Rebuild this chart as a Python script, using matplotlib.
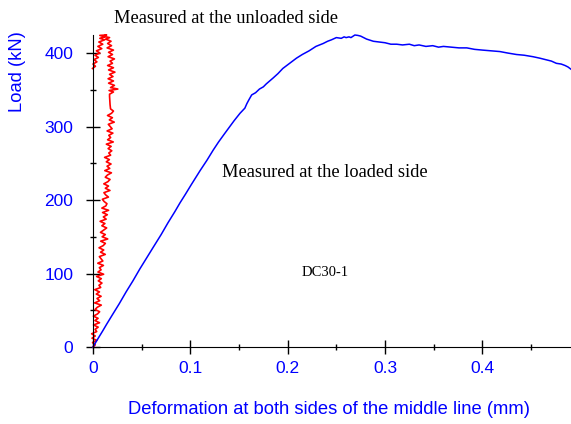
import matplotlib
matplotlib.use('Agg')
import matplotlib.pyplot as plt
from matplotlib.ticker import MultipleLocator

# loaded side (blue): deformation in mm, load in kN
loaded_x = [0.000, 0.004, 0.010, 0.014, 0.020, 0.027, 0.034, 0.041, 0.048, 0.055,
            0.062, 0.070, 0.077, 0.084, 0.0893, 0.095, 0.101, 0.110, 0.117, 0.1235,
            0.129, 0.135, 0.140, 0.145, 0.151, 0.156, 0.158, 0.160, 0.163, 0.167,
            0.171, 0.175, 0.178, 0.185, 0.190, 0.195, 0.202, 0.209, 0.215, 0.222,
            0.229, 0.2365, 0.241, 0.245, 0.250, 0.255, 0.258, 0.260, 0.263, 0.265,
            0.269, 0.272, 0.275, 0.281, 0.288, 0.294, 0.300, 0.306, 0.312, 0.318,
            0.325, 0.330, 0.335, 0.342, 0.349, 0.355, 0.360, 0.368, 0.376, 0.384,
            0.392, 0.400, 0.409, 0.418, 0.426, 0.435, 0.443, 0.452, 0.459, 0.465,
            0.471, 0.476, 0.481, 0.485, 0.488, 0.491]
loaded_y = [0, 9, 22, 31, 44, 59, 75, 90, 106, 121,
            136, 153, 169, 184, 196, 208, 221, 240, 254, 268,
            279, 290, 299, 308, 318, 325, 331, 336, 343, 346,
            351, 354, 358, 366, 372, 379, 386, 393, 398, 403,
            409, 413, 416, 418, 421, 420, 422, 421, 422, 421,
            424.5, 424, 423, 419, 416, 415, 414, 412, 412, 411,
            412, 410, 411, 409, 410, 408, 409, 408, 407, 407,
            405, 404, 403, 402, 400, 398, 397, 395, 393, 391,
            389, 386, 385, 383, 381, 378]

# unloaded side (red): deformation in micrometres, load in kN
unloaded_um = [0, 2.3, -0.5, 3.8, -1.0, 2.3, -1.4, 3.8, 2.1, 5.3,
               0.5, 6.7, 2.0, 5.2, 0.4, 4.6, 6.8, 2.1, 4.3, 8.5,
               1.7, 6.9, 4.1, 8.3, 3.4, 6.6, 1.8, 7.9, 6.1, 9.2,
               5.4, 8.5, 3.7, 10.9, 5.1, 8.3, 6.5, 10.7, 4.9, 10.1,
               8.3, 6.5, 12.6, 7.8, 11.0, 6.2, 10.5, 12.7, 7.9, 15.1,
               9.4, 12.6, 7.7, 10.9, 14.0, 9.1, 12.2, 7.3, 13.5, 10.6,
               14.7, 9.8, 16.0, 9.1, 13.2, 14.3, 11.4, 9.6, 15.8, 13.0,
               11.2, 17.4, 12.7, 15.9, 11.1, 15.3, 17.5, 12.6, 14.8, 18.9,
               12.1, 17.2, 14.4, 18.5, 13.7, 16.8, 11.9, 18.1, 16.2, 19.3,
               15.5, 18.6, 13.7, 20.8, 15.0, 18.1, 16.2, 20.4, 14.5, 19.6,
               17.6, 15.7, 21.8, 16.8, 19.9, 14.9, 19.0, 21.0, 18.0,
               17.5, 17.2, 17.0,
               17, 21, 16.5, 25.5, 18, 22, 16, 21, 15.5, 20.5,
               17, 22.5, 16, 21, 15, 20, 17.5, 22, 15.5, 20,
               16, 21, 14.5, 19, 15, 18.5, 13, 17, 10, 14,
               7, 12, 7, 12, 6, 10, 5, 9, 3.5, 7,
               2, 5.5, 1, 4, 0, 2.5, -0.5]
unloaded_y = [0, 3, 6, 9, 12, 15, 18, 21, 24, 27,
              30, 33, 36, 39, 42, 45, 48, 51, 54, 57,
              60, 63, 66, 69, 72, 75, 78, 81, 84, 87,
              90, 93, 96, 99, 102, 105, 108, 111, 114, 117,
              120, 123, 126, 129, 132, 135, 138, 141, 144, 147,
              150, 153, 156, 159, 162, 165, 168, 171, 174, 177,
              180, 183, 186, 189, 192, 195, 198, 201, 204, 207,
              210, 213, 216, 219, 222, 225, 228, 231, 234, 237,
              240, 243, 246, 249, 252, 255, 258, 261, 264, 267,
              270, 273, 276, 279, 282, 285, 288, 291, 294, 297,
              300, 303, 306, 309, 312, 315, 318, 321, 324,
              330, 336, 341,
              344, 347, 349, 351, 353, 356, 359, 362, 365, 368,
              371, 374, 377, 380, 383, 386, 389, 392, 395, 398,
              401, 404, 407, 410, 413, 416, 419, 421, 423, 424.5,
              424, 422, 420, 418, 415, 412, 409, 406, 403, 400,
              397, 394, 391, 388, 385, 382, 379]

x_ticks = [0, 0.1, 0.2, 0.3, 0.4]
x_labels = ['0', '0.1', '0.2', '0.3', '0.4']

fig = plt.figure(figsize=(5.71, 4.24), dpi=100)
ax = fig.add_axes([0.1629, 0.1816, 0.837, 0.7358])

ax.plot([v / 1000 for v in unloaded_um], unloaded_y, color='red', lw=1.2, clip_on=False)
ax.plot(loaded_x, loaded_y, color='blue', lw=1.1, clip_on=False)

ax.set_xlim(0, 0.491)
ax.set_ylim(0, 424.5)
for s in ['top', 'right']:
    ax.spines[s].set_visible(False)
ax.set_xticks(x_ticks)
ax.set_xticklabels(x_labels)
ax.xaxis.set_minor_locator(MultipleLocator(0.05))
ax.yaxis.set_major_locator(MultipleLocator(100))
ax.yaxis.set_minor_locator(MultipleLocator(50))
ax.tick_params(which='major', direction='inout', length=9.5, width=1, labelsize=12.5,
               labelcolor='blue', labelfontfamily='Liberation Sans')
ax.tick_params(which='minor', direction='inout', length=5, width=1)
ax.tick_params(axis='y', pad=9.5)
ax.tick_params(axis='x', pad=5.3)

fig.text(329 / 571, 1 - 410 / 424, 'Deformation at both sides of the middle line (mm)',
         color='blue', fontsize=13.2, family='Liberation Sans', ha='center', va='center')
fig.text(18 / 571, 1 - 72 / 424, 'Load (kN)', color='blue', fontsize=13.2,
         family='Liberation Sans', rotation=90, ha='center', va='center')

ax.text(0.0216, 1.0545, 'Measured at the unloaded side', transform=ax.get_xaxis_transform(),
        fontsize=13.2, family='Liberation Serif', va='center')
ax.text(0.1325, 238, 'Measured at the loaded side', fontsize=13.2,
        family='Liberation Serif', va='center')
ax.text(0.2146, 101, 'DC30-1', fontsize=10.5, family='Liberation Serif', va='center')

fig.savefig('out.png', dpi=100)
